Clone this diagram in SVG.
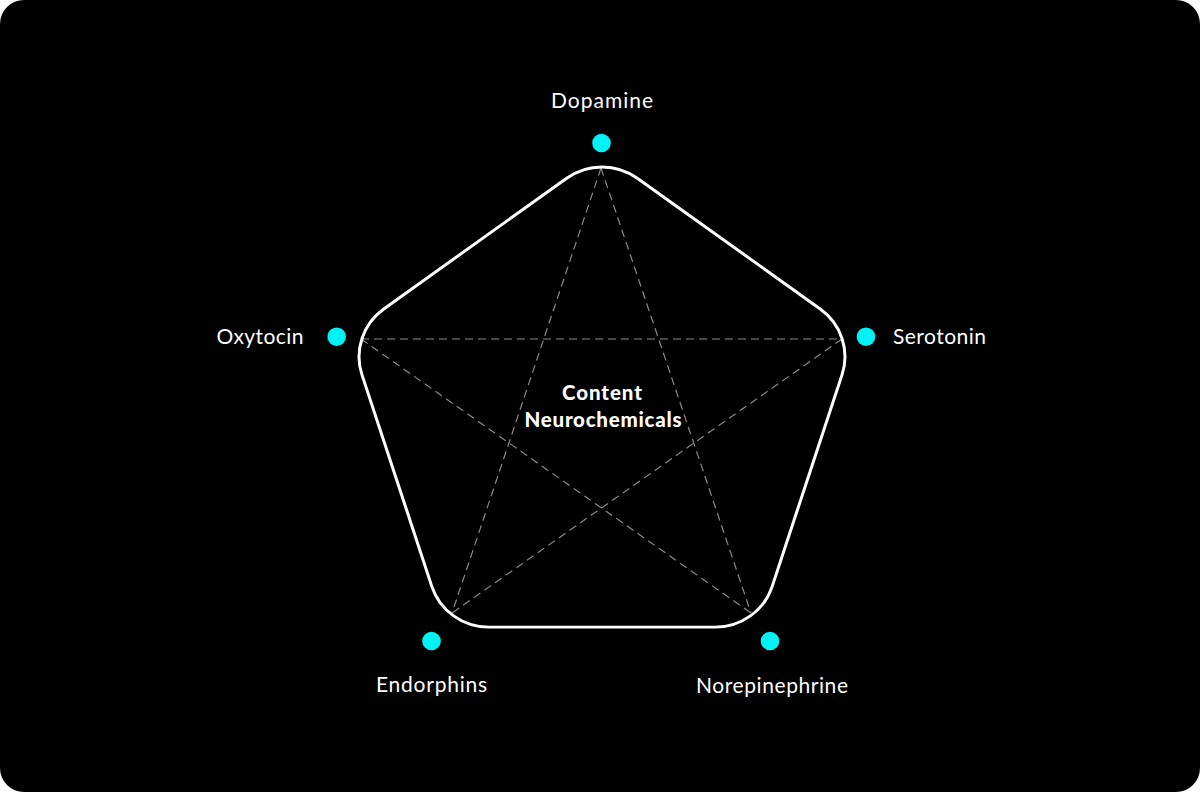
<svg xmlns="http://www.w3.org/2000/svg" width="1200" height="792" viewBox="0 0 1200 792">
<style>
.lbl{font-family:Lato,"Noto Sans","Liberation Sans",sans-serif;font-size:21px;fill:#ffffff;text-anchor:middle}
.ctr{font-family:Lato,"Noto Sans","Liberation Sans",sans-serif;font-size:20.5px;font-weight:900;fill:#ffffff;text-anchor:middle}
.dot{fill:#00f2f5}
.dash{stroke:#8a8a8a;stroke-width:1.2;stroke-dasharray:8 5;fill:none}
.outline{fill:none;stroke:#ffffff;stroke-width:3}
</style>
<rect x="0" y="0" width="1200" height="792" fill="#ffffff"/>
<rect x="0" y="0" width="1200" height="792" rx="24" ry="24" fill="#000000"/>
<g id="connectors">
<line class="dash" x1="601" y1="168" x2="452" y2="613"/>
<line class="dash" x1="601" y1="168" x2="751" y2="613"/>
<line class="dash" x1="361" y1="339" x2="842" y2="339"/>
<line class="dash" x1="361" y1="339" x2="751" y2="613"/>
<line class="dash" x1="842" y1="339" x2="452" y2="613"/>
</g>
<g id="pentagon">
<path class="outline" transform="translate(602,415.1) scale(1,0.983)" d="M -35.3,-241.0 A60 60 0 0 1 35.3,-241.0 L 218.2,-108.0 A60 60 0 0 1 240.0,-40.9 L 170.2,174.2 A60 60 0 0 1 113.1,215.7 L -113.1,215.7 A60 60 0 0 1 -170.2,174.2 L -240.0,-40.9 A60 60 0 0 1 -218.2,-108.0 Z"/>
</g>
<g id="center">
<text class="ctr" x="602" y="400" textLength="80">Content</text>
<text class="ctr" x="603" y="427" textLength="157">Neurochemicals</text>
</g>
<g id="dopamine">
<circle class="dot" cx="601.5" cy="143" r="9.3"/>
<text class="lbl" x="602" y="108" textLength="102">Dopamine</text>
</g>
<g id="serotonin">
<circle class="dot" cx="866" cy="336.7" r="9.3"/>
<text class="lbl" x="939.5" y="343.5" textLength="93">Serotonin</text>
</g>
<g id="oxytocin">
<circle class="dot" cx="336.7" cy="336.7" r="9.3"/>
<text class="lbl" x="260" y="343.5" textLength="87">Oxytocin</text>
</g>
<g id="endorphins">
<circle class="dot" cx="431.5" cy="641" r="9.3"/>
<text class="lbl" x="431.5" y="692" textLength="111">Endorphins</text>
</g>
<g id="norepinephrine">
<circle class="dot" cx="770" cy="641" r="9.3"/>
<text class="lbl" x="772" y="693" textLength="152">Norepinephrine</text>
</g>
</svg>
